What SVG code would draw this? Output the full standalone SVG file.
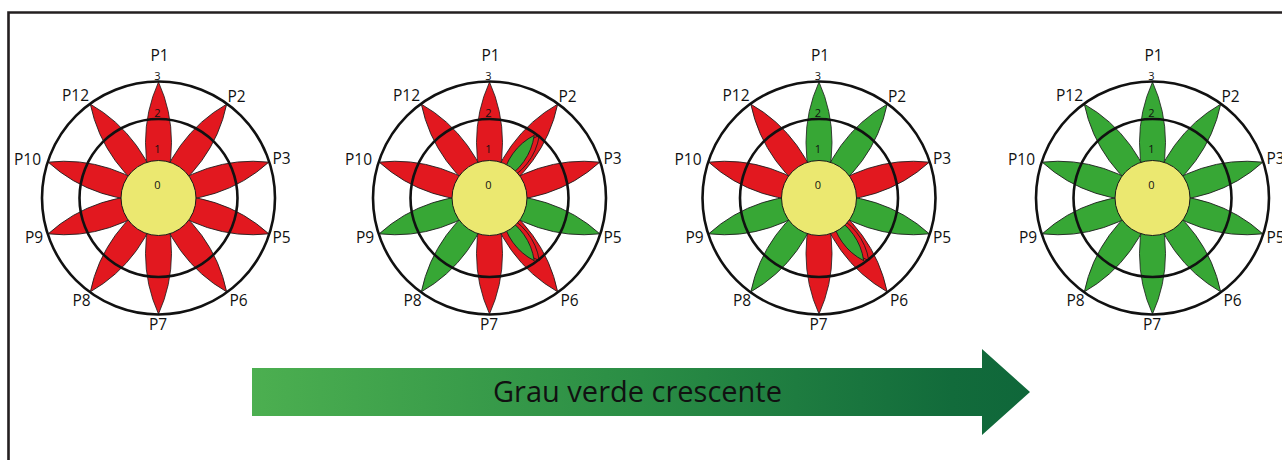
<svg xmlns="http://www.w3.org/2000/svg" xmlns:xlink="http://www.w3.org/1999/xlink" width="1282" height="460" viewBox="0 0 1282 460">
<style>
.r{fill:#e2181f;stroke:#1a1a1a;stroke-width:0.8}
.g{fill:#37a735;stroke:#1a1a1a;stroke-width:0.8}
.ring{fill:none;stroke:#111;stroke-width:2.6}
.core{fill:#ebe870;stroke:#1a1a1a;stroke-width:1}
.lbl{font-family:"Open Sans","Liberation Sans",sans-serif;font-size:15.5px;fill:#111;text-anchor:middle}
.num{font-family:"Open Sans","Liberation Sans",sans-serif;font-size:11px;fill:#111;text-anchor:middle}
.title{font-family:"Open Sans","Liberation Sans",sans-serif;font-size:29px;fill:#111}
</style>
<defs>
<path id="petal" d="M0,-116 A147,147 0 0 1 0,5 A147,147 0 0 1 0,-116Z"/>
<path id="mid" d="M0,-80 A60.25,60.25 0 0 1 0,-20 A60.25,60.25 0 0 1 0,-80Z"/>
<path id="mini" d="M0,-77 A59.5,59.5 0 0 1 0,-22 A59.5,59.5 0 0 1 0,-77Z"/>
<g id="rings">
<circle class="ring" r="79"/>
<circle class="ring" r="116.5"/>
<circle class="core" r="37.5"/>
<text class="num" x="-1" y="-118">3</text>
<text class="num" x="-1" y="-81">2</text>
<text class="num" x="-1" y="-45.5">1</text>
<text class="num" x="-1" y="-9">0</text>
</g>
<g id="labels">
<text class="lbl" x="1" y="-137">P1</text>
<text class="lbl" x="78" y="-96">P2</text>
<text class="lbl" x="123" y="-34">P3</text>
<text class="lbl" x="123" y="45">P5</text>
<text class="lbl" x="80" y="108">P6</text>
<text class="lbl" x="-0.5" y="132">P7</text>
<text class="lbl" x="-77" y="108">P8</text>
<text class="lbl" x="-124.5" y="45">P9</text>
<text class="lbl" x="-131" y="-33">P10</text>
<text class="lbl" x="-83" y="-97">P12</text>
</g>
<linearGradient id="grad" gradientUnits="userSpaceOnUse" x1="252" y1="0" x2="1030" y2="0">
<stop offset="0" stop-color="#4caf50"/>
<stop offset="0.5" stop-color="#2a8d45"/>
<stop offset="0.9" stop-color="#126b3b"/>
<stop offset="1" stop-color="#0f673a"/>
</linearGradient>
</defs>
<rect width="1282" height="460" fill="#fff"/>
<path d="M8.5,460 V12.5 H1282" fill="none" stroke="#231f20" stroke-width="2.6"/>

<g id="flower1" transform="translate(158.5,198)">
<use href="#petal" class="r" transform="rotate(0)"/>
<use href="#petal" class="r" transform="rotate(36)"/>
<use href="#petal" class="r" transform="rotate(72)"/>
<use href="#petal" class="r" transform="rotate(108)"/>
<use href="#petal" class="r" transform="rotate(144)"/>
<use href="#petal" class="r" transform="rotate(180)"/>
<use href="#petal" class="r" transform="rotate(216)"/>
<use href="#petal" class="r" transform="rotate(252)"/>
<use href="#petal" class="r" transform="rotate(288)"/>
<use href="#petal" class="r" transform="rotate(324)"/>
<use href="#rings"/>
<use href="#labels"/>
</g>

<g id="flower2" transform="translate(489.5,198)">
<use href="#petal" class="r" transform="rotate(0)"/>
<use href="#petal" class="r" transform="rotate(36)"/>
<use href="#mid" class="r" transform="rotate(38.5)"/>
<use href="#mini" class="g" transform="rotate(35.5)"/>
<use href="#petal" class="r" transform="rotate(72)"/>
<use href="#petal" class="g" transform="rotate(108)"/>
<use href="#petal" class="r" transform="rotate(144)"/>
<use href="#mid" class="r" transform="rotate(141.5)"/>
<use href="#mini" class="g" transform="rotate(144.5)"/>
<use href="#petal" class="r" transform="rotate(180)"/>
<use href="#petal" class="g" transform="rotate(216)"/>
<use href="#petal" class="g" transform="rotate(252)"/>
<use href="#petal" class="r" transform="rotate(288)"/>
<use href="#petal" class="r" transform="rotate(324)"/>
<use href="#rings"/>
<use href="#labels"/>
</g>

<g id="flower3" transform="translate(819,198)">
<use href="#petal" class="g" transform="rotate(0)"/>
<use href="#petal" class="g" transform="rotate(36)"/>
<use href="#petal" class="r" transform="rotate(72)"/>
<use href="#petal" class="g" transform="rotate(108)"/>
<use href="#petal" class="r" transform="rotate(144)"/>
<use href="#mid" class="r" transform="rotate(141.5)"/>
<use href="#mini" class="g" transform="rotate(144.5)"/>
<use href="#petal" class="r" transform="rotate(180)"/>
<use href="#petal" class="g" transform="rotate(216)"/>
<use href="#petal" class="g" transform="rotate(252)"/>
<use href="#petal" class="r" transform="rotate(288)"/>
<use href="#petal" class="r" transform="rotate(324)"/>
<use href="#rings"/>
<use href="#labels"/>
</g>

<g id="flower4" transform="translate(1152.5,198)">
<use href="#petal" class="g" transform="rotate(0)"/>
<use href="#petal" class="g" transform="rotate(36)"/>
<use href="#petal" class="g" transform="rotate(72)"/>
<use href="#petal" class="g" transform="rotate(108)"/>
<use href="#petal" class="g" transform="rotate(144)"/>
<use href="#petal" class="g" transform="rotate(180)"/>
<use href="#petal" class="g" transform="rotate(216)"/>
<use href="#petal" class="g" transform="rotate(252)"/>
<use href="#petal" class="g" transform="rotate(288)"/>
<use href="#petal" class="g" transform="rotate(324)"/>
<use href="#rings"/>
<use href="#labels"/>
</g>

<g id="connectors">
<g id="progress-arrow">
<polygon points="252,368 982,368 982,349 1030,392 982,435 982,416 252,416" fill="url(#grad)"/>
<text class="title" x="493" y="402">Grau verde crescente</text>
</g>
</g>
</svg>
